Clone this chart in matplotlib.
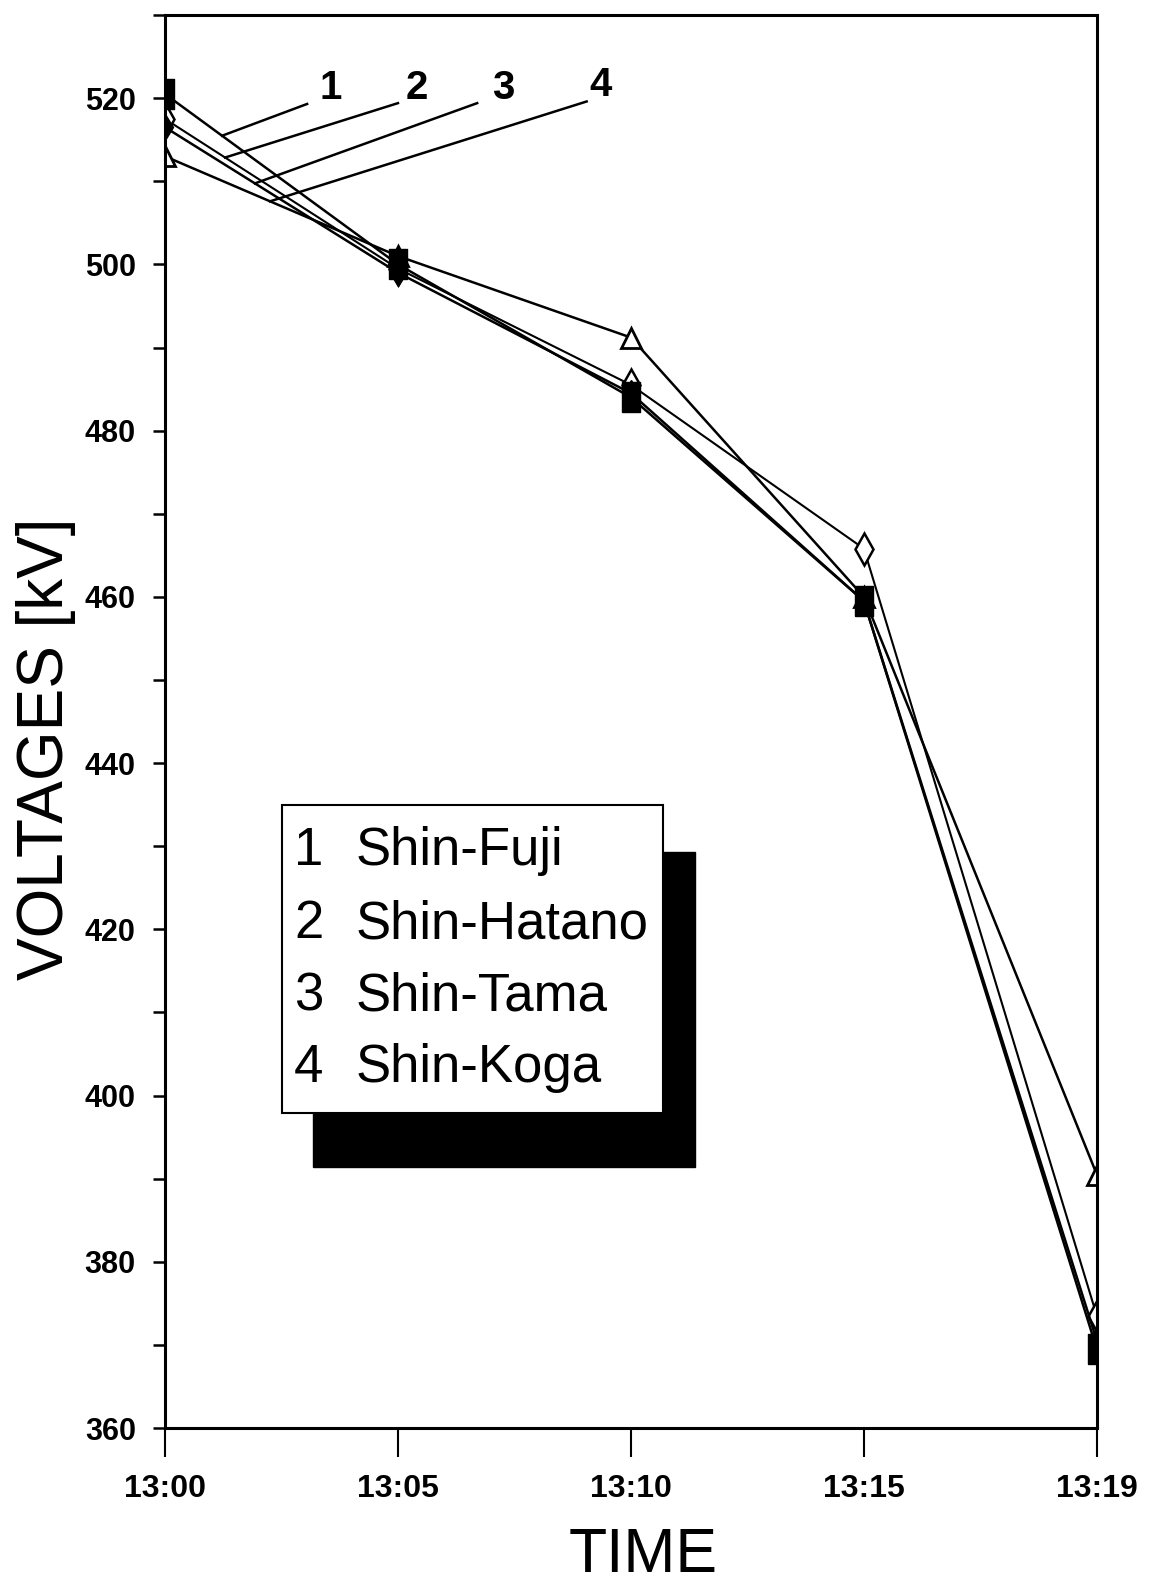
import matplotlib
matplotlib.use('Agg')
import matplotlib.pyplot as plt
import numpy as np
from matplotlib.patches import Rectangle
from matplotlib.ticker import MultipleLocator

plt.rcParams['font.family'] = ['Liberation Sans', 'DejaVu Sans']

times = ['13:00', '13:05', '13:10', '13:15', '13:19']
shin_fuji = [520.5, 500.0, 484.0, 459.5, 369.5]
shin_hatano = [517.5, 499.5, 485.5, 465.8, 373.5]
shin_tama = [516.5, 499.0, 484.5, 459.5, 370.5]
shin_koga = [513.0, 501.0, 491.2, 460.0, 390.5]
names = ['Shin-Fuji', 'Shin-Hatano', 'Shin-Tama', 'Shin-Koga']

x = np.arange(len(times))

fig = plt.figure(figsize=(11.57, 15.82), dpi=100)
ax = fig.add_axes([0.1426, 0.0973, 0.8054, 0.8932])

# tall rectangle marker (scan looks stretched vertically)
rect = [(-0.6, -1), (0.6, -1), (0.6, 1), (-0.6, 1), (-0.6, -1)]
ax.plot(x, shin_koga, color='black', lw=1.8, marker='^', ms=15, mfc='white', mec='black', mew=2, zorder=2)
ax.plot(x, shin_hatano, color='black', lw=1.5, marker='d', ms=16, mfc='white', mec='black', mew=1.8, zorder=2)
ax.plot(x, shin_tama, color='black', lw=1.8, marker='d', ms=13, mfc='black', mec='black', zorder=3)
ax.plot(x, shin_fuji, color='black', lw=1.8, marker=rect, ms=22, mfc='black', mec='black', zorder=3)

ax.set_xlim(0, 4)
ax.set_ylim(360, 530)
ax.set_xticks(x)
ax.set_xticklabels(times)
ax.yaxis.set_major_locator(MultipleLocator(20))
ax.yaxis.set_minor_locator(MultipleLocator(10))
ax.tick_params(axis='y', which='both', direction='out', length=9, width=1.8, pad=12,
               labelsize=22)
ax.tick_params(axis='x', direction='out', length=21, width=1.5, pad=12, labelsize=23)
for lab in ax.get_xticklabels() + ax.get_yticklabels():
    lab.set_fontweight('bold')
for sp in ax.spines.values():
    sp.set_linewidth(2.2)

fig.text(0.040, 0.5266, 'VOLTAGES [kV]', fontsize=46, rotation=90, ha='center', va='center')
fig.text(0.5557, 0.0065, 'TIME', fontsize=45, ha='center', va='baseline')

# numbered leader lines near 13:00
series = [shin_fuji, shin_hatano, shin_tama, shin_koga]
tip_x = [0.245, 0.258, 0.386, 0.451]
start = [(0.61, 519.3), (1.0, 519.4), (1.34, 519.4), (1.81, 519.6)]
num_pos = [(0.71, 519.9), (1.08, 519.9), (1.45, 519.9), (1.87, 520.2)]
for i, s in enumerate(series):
    ty = s[0] + (s[1] - s[0]) * tip_x[i]
    ax.plot([start[i][0], tip_x[i]], [start[i][1], ty], color='black', lw=1.8)
    ax.text(num_pos[i][0], num_pos[i][1], str(i + 1), fontsize=29, fontweight='bold',
            ha='center', va='baseline')

# boxed key with black drop shadow
ax.add_patch(Rectangle((0.1588, 0.1847), 0.4100, 0.2229, transform=ax.transAxes,
                       facecolor='black', edgecolor='black', zorder=4))
ax.add_patch(Rectangle((0.1255, 0.2229), 0.4088, 0.2180, transform=ax.transAxes,
                       facecolor='white', edgecolor='black', lw=1.5, zorder=5))
row_y = [0.3984, 0.3468, 0.2958, 0.2449]
for i, nm in enumerate(names):
    ax.text(0.1385, row_y[i], str(i + 1), transform=ax.transAxes, fontsize=38,
            va='baseline', ha='left', zorder=6)
    ax.text(0.2045, row_y[i], nm, transform=ax.transAxes, fontsize=38,
            va='baseline', ha='left', zorder=6)

fig.savefig('out.png', dpi=100)
